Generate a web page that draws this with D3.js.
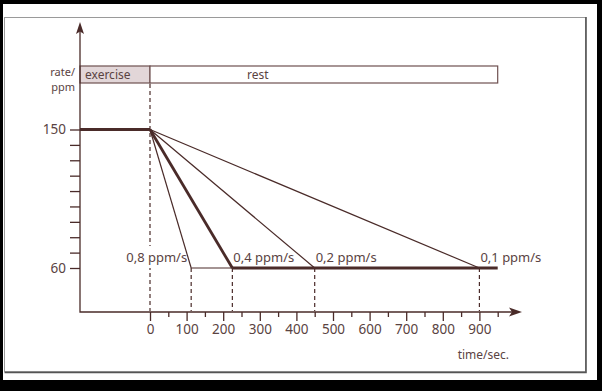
<!DOCTYPE html>
<html>
<head>
<meta charset="utf-8">
<script src="https://cdn.jsdelivr.net/npm/d3@7"></script>
<style>
  body { margin: 0; background: #fff; }
  svg text { font-family: "Noto Sans", sans-serif; fill: #5a4342; }
</style>
</head>
<body>
<div id="chart"></div>
<script>
// heart rate recovery after exercise, rate of fall in ppm/s
var exerciseRate = 150;
var restRate = 60;
var rates = ["0,8 ppm/s", "0,4 ppm/s", "0,2 ppm/s", "0,1 ppm/s"];
var recoveryEnd = [112.5, 225, 450, 900];   // seconds after stop
var restEnd = 950;
var xMajor = [0, 100, 200, 300, 400, 500, 600, 700, 800, 900];
var xMinor = [50, 150, 250, 350, 450, 550, 650, 750, 850, 950];
var yTicks = [60, 70, 80, 90, 100, 110, 120, 130, 140, 150];
var yLabels = [60, 150];
var phases = ["exercise", "rest"];

var width = 602, height = 391;
var ink = "#4a2b29";

var svg = d3.select("#chart").append("svg")
    .attr("width", width)
    .attr("height", height);

// frame
svg.append("rect").attr("x", 0).attr("y", 0).attr("width", width).attr("height", height).attr("fill", "#000");
svg.append("rect").attr("x", 3).attr("y", 4).attr("width", 594).attr("height", 376).attr("fill", "#fff");
svg.append("rect").attr("x", 4.5).attr("y", 17.5).attr("width", 581).attr("height", 354)
    .attr("fill", "none").attr("stroke", "#9a9a9a").attr("stroke-width", 1);
svg.append("path").attr("d", "M586,17V372.5H4.5")
    .attr("fill", "none").attr("stroke", "#555").attr("stroke-width", 1.6);

var x = d3.scaleLinear().domain([0, 900]).range([150, 479.4]);
var y = d3.scaleLinear().domain([60, 150]).range([268, 129.5]);

var x0 = 80, axisY = 312;
var tStart = x.invert(x0);

// phase bar
var bar = svg.append("g");
bar.append("rect")
    .attr("x", x0).attr("y", 66)
    .attr("width", x(0) - x0).attr("height", 17)
    .attr("fill", "#e2d6d8").attr("stroke", "#6e5050").attr("stroke-width", 1.2);
bar.append("rect")
    .attr("x", x(0)).attr("y", 66)
    .attr("width", x(restEnd) - x(0)).attr("height", 17)
    .attr("fill", "#fff").attr("stroke", "#6e5050").attr("stroke-width", 1.2);
bar.append("text").attr("x", x0 + 5).attr("y", 79).attr("font-size", 12).text(phases[0]);
bar.append("text").attr("x", 247).attr("y", 79).attr("font-size", 12).text(phases[1]);

svg.append("text").attr("x", 75).attr("y", 76).attr("text-anchor", "end").attr("font-size", 11).text("rate/");
svg.append("text").attr("x", 75).attr("y", 91).attr("text-anchor", "end").attr("font-size", 11).text("ppm");

// dashed guides
var dash = svg.append("g").attr("stroke", ink).attr("stroke-width", 1.2).attr("stroke-dasharray", "4,3");
dash.append("line").attr("x1", x(0)).attr("x2", x(0)).attr("y1", 84).attr("y2", axisY - 1);
dash.selectAll("line.end")
    .data(recoveryEnd)
  .enter().append("line")
    .attr("class", "end")
    .attr("x1", function(d) { return x(d); })
    .attr("x2", function(d) { return x(d); })
    .attr("y1", y(restRate))
    .attr("y2", axisY - 1);

// axes
var yAxis = svg.append("g")
    .attr("transform", "translate(" + x0 + ",0)")
    .call(d3.axisLeft(y).tickValues(yTicks).tickSize(10).tickPadding(4)
      .tickFormat(function(d) { return yLabels.indexOf(d) >= 0 ? d : ""; }));
yAxis.select(".domain").remove();

var xAxis = svg.append("g")
    .attr("transform", "translate(0," + axisY + ")")
    .call(d3.axisBottom(x).tickValues(xMajor).tickSize(9).tickPadding(3).tickFormat(d3.format("d")));
xAxis.select(".domain").remove();
var xAxisMinor = svg.append("g")
    .attr("transform", "translate(0," + axisY + ")")
    .call(d3.axisBottom(x).tickValues(xMinor).tickSize(5).tickFormat(""));
xAxisMinor.select(".domain").remove();

svg.selectAll(".tick line").attr("stroke", ink).attr("stroke-width", 1.3);
svg.selectAll(".tick text").attr("font-size", 13.5).attr("font-family", null).attr("fill", "#5a4342");

svg.append("path")
    .attr("d", "M" + x0 + ",30V" + axisY + "H512")
    .attr("fill", "none").attr("stroke", ink).attr("stroke-width", 1.3);
svg.append("path").attr("d", "M80,22L84,34L80,31.5L76,34Z").attr("fill", ink);
svg.append("path").attr("d", "M522,312L509,307.5L512,312L509,316.5Z").attr("fill", ink);

// rate labels
var labels = svg.append("g").attr("font-size", 13);
labels.selectAll("text")
    .data(rates)
  .enter().append("text")
    .attr("x", function(d, i) { return i === 0 ? x(recoveryEnd[i]) - 4 : x(recoveryEnd[i]) + 1; })
    .attr("y", y(restRate) - 6)
    .attr("text-anchor", function(d, i) { return i === 0 ? "end" : "start"; })
    .text(function(d) { return d; });
var first = labels.select("text").node().getBBox();
labels.insert("rect", "text")
    .attr("x", first.x - 1).attr("y", first.y - 2)
    .attr("width", first.width + 2).attr("height", first.height + 4)
    .attr("fill", "#fff");

// recovery lines
var line = d3.line().x(function(d) { return x(d[0]); }).y(function(d) { return y(d[1]); });
var lines = svg.append("g").attr("fill", "none").attr("stroke", ink).attr("stroke-linejoin", "round");
recoveryEnd.forEach(function(t, i) {
  lines.append("path")
      .attr("d", line([[0, exerciseRate], [t, restRate]]))
      .attr("stroke-width", i === 1 ? 2.8 : 1.2);
});
lines.append("path")
    .attr("d", line([[recoveryEnd[0], restRate], [recoveryEnd[1], restRate]]))
    .attr("stroke-width", 1.2);
lines.append("path")
    .attr("d", line([[recoveryEnd[1], restRate], [restEnd, restRate]]))
    .attr("stroke-width", 2.8);
lines.append("path")
    .attr("d", line([[tStart, exerciseRate], [0, exerciseRate]]))
    .attr("stroke-width", 2.8);

svg.append("text").attr("x", 509).attr("y", 359).attr("text-anchor", "end").attr("font-size", 12).text("time/sec.");
</script>
</body>
</html>
